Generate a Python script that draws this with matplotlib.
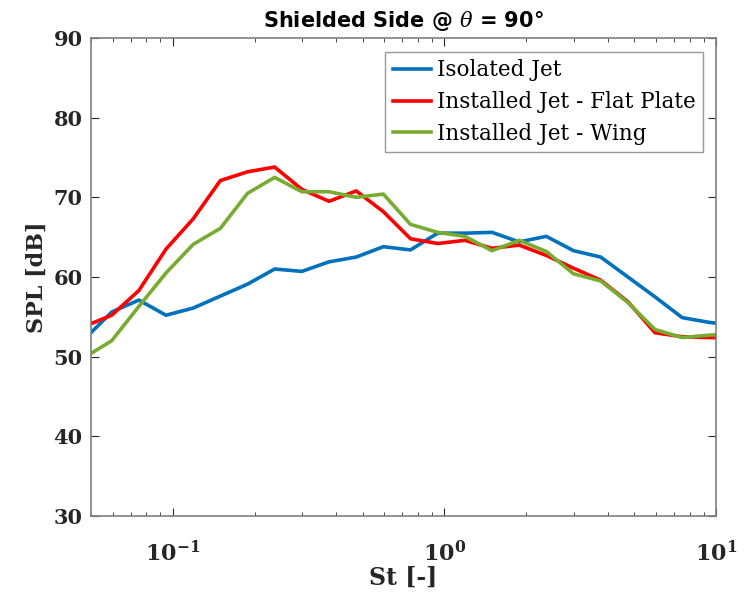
import numpy as np
import matplotlib
matplotlib.use("Agg")
import matplotlib.pyplot as plt
from matplotlib.ticker import LogLocator, NullFormatter, FixedLocator, FixedFormatter

plt.rcParams["mathtext.fontset"] = "dejavuserif"

# Strouhal number at each band (1/3 octave spacing)
st = [0.0473, 0.0596, 0.0750, 0.0944, 0.1189, 0.1496, 0.1884, 0.2371, 0.2985,
      0.3758, 0.4732, 0.5957, 0.7499, 0.9441, 1.1885, 1.4962, 1.8836, 2.3714,
      2.9854, 3.7584, 4.7315, 5.9566, 7.4989, 9.4406, 11.885]

isolated = [52.2, 55.6, 57.1, 55.2, 56.1, 57.6, 59.1, 61.0, 60.7, 61.9, 62.5, 63.8,
            63.4, 65.5, 65.5, 65.6, 64.4, 65.1, 63.3, 62.5, 60.0, 57.5, 54.9, 54.3, 53.9]
flat_plate = [53.8, 55.2, 58.3, 63.5, 67.3, 72.1, 73.2, 73.8, 71.0, 69.5, 70.8, 68.2,
              64.8, 64.2, 64.6, 63.6, 64.0, 62.7, 61.1, 59.6, 56.9, 53.0, 52.5, 52.4, 52.3]
wing = [49.9, 52.0, 56.3, 60.5, 64.1, 66.1, 70.5, 72.5, 70.7, 70.7, 70.0, 70.4,
        66.6, 65.6, 65.1, 63.3, 64.6, 63.2, 60.4, 59.5, 56.8, 53.4, 52.4, 52.7, 52.8]

labels = ["Isolated Jet", "Installed Jet - Flat Plate", "Installed Jet - Wing"]
colors = ["#0072BD", "#FF0000", "#77AC30"]
xticks = [0.1, 1, 10]
xticklabels = [r"$\mathbf{10^{-1}}$", r"$\mathbf{10^{0}}$", r"$\mathbf{10^{1}}$"]

fig = plt.figure(figsize=(7.46, 5.99), dpi=100)
ax = fig.add_axes([0.122, 0.1386, 0.838, 0.798])

for y, lab, c in zip([isolated, flat_plate, wing], labels, colors):
    ax.plot(st, y, color=c, linewidth=2.6, label=lab)

ax.set_xscale("log")
ax.set_xlim(0.05, 10)
ax.set_ylim(30, 90)
ax.set_yticks([30, 40, 50, 60, 70, 80, 90])
ax.xaxis.set_major_locator(FixedLocator(xticks))
ax.xaxis.set_major_formatter(FixedFormatter(xticklabels))
ax.xaxis.set_minor_locator(LogLocator(base=10, subs=np.arange(2, 10)))
ax.xaxis.set_minor_formatter(NullFormatter())

grey = "#7f7f7f"
for s in ax.spines.values():
    s.set_color(grey)
    s.set_linewidth(1.2)
ax.tick_params(which="both", direction="in", top=True, right=True, color="#262626")
ax.tick_params(which="major", length=6, width=0.8)
ax.tick_params(which="minor", length=3, width=0.6)
ax.tick_params(axis="y", which="major", pad=6)
ax.tick_params(axis="x", which="major", pad=18)

for t in ax.get_xticklabels() + ax.get_yticklabels():
    t.set_fontfamily("DejaVu Serif")
    t.set_fontweight("bold")
    t.set_fontsize(15)
    t.set_color("#262626")
for t in ax.get_xticklabels():
    t.set_fontsize(16)

ax.set_xlabel("St [-]", fontfamily="DejaVu Serif", fontweight="bold", fontsize=17,
              color="#262626", labelpad=0)
ax.set_ylabel("SPL [dB]", fontfamily="DejaVu Serif", fontweight="bold", fontsize=16,
              color="#262626", labelpad=4)
ax.set_title("Shielded Side @ $\\theta$ = 90°", fontweight="bold", fontsize=15, pad=8)

leg = ax.legend(loc="upper right", bbox_to_anchor=(0.979, 0.971), fancybox=False,
                edgecolor=grey, prop={"family": "DejaVu Serif", "size": 15.5},
                handlelength=1.8, handletextpad=0.25, borderpad=0.35, labelspacing=0.45,
                borderaxespad=0)
leg.get_frame().set_linewidth(1.0)

fig.savefig("out.png", dpi=100)
